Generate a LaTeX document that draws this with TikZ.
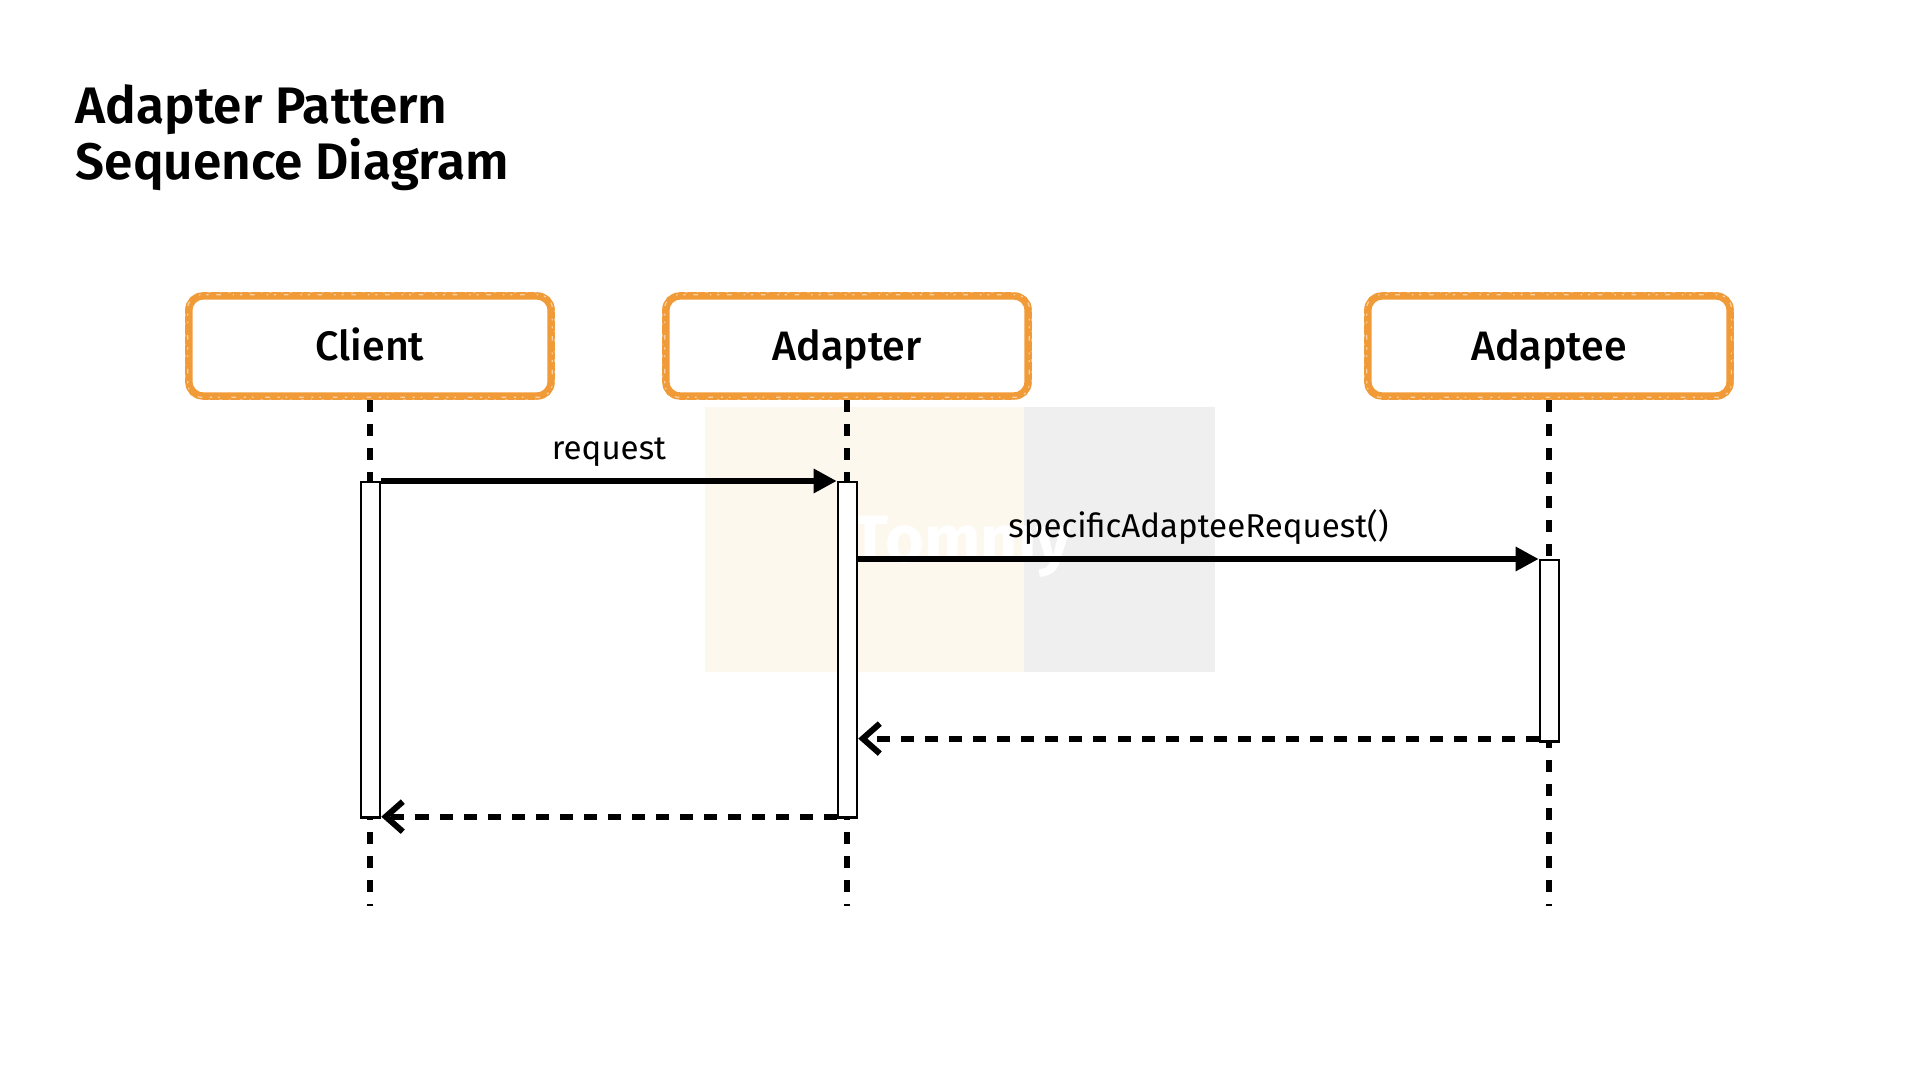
\documentclass[tikz,border=0pt]{standalone}
\usepackage{fontspec}
\setmainfont{Fira Sans}
\newfontfamily\titlefont{Fira Sans SemiBold}
\newfontfamily\labelfont{Fira Sans Medium}
\usetikzlibrary{arrows.meta}

\definecolor{crayon}{HTML}{F19A38}
\definecolor{cream}{HTML}{FCF8EE}
\definecolor{mist}{HTML}{EFEFEF}

\tikzset{
  title/.style={anchor=base west, inner sep=0pt, font=\titlefont\fontsize{14.6}{17}\selectfont},
  actor/.style={draw=crayon, line width=0.075cm, rounded corners=0.14cm,
    minimum width=3.62cm, minimum height=1cm, inner sep=0pt,
    text height=0.29cm, text depth=0pt, font=\labelfont\fontsize{11.7}{14}\selectfont},
  grain/.style={white, opacity=.55, line width=0.35pt, rounded corners=0.14cm},
  lifeline/.style={line width=0.055cm, dash pattern=on 0.12cm off 0.12cm},
  bar/.style={draw, fill=white, line width=0.025cm, minimum width=0.19cm, inner sep=0pt, anchor=north},
  call/.style={line width=0.06cm, -{Triangle[length=0.23cm, width=0.23cm]}},
  reply/.style={line width=0.06cm, dash pattern=on 0.13cm off 0.11cm,
    -{Straight Barb[length=0.17cm, width=0.3cm]}},
  msg/.style={anchor=base, inner sep=0pt, font=\fontsize{9.4}{11}\selectfont},
  watermark/.style={anchor=base, inner sep=0pt, text=white, font=\bfseries\fontsize{19}{22}\selectfont}
}

% crayon grain on a participant frame
\newcommand{\crayongrain}[1]{%
  \draw[grain, dash pattern=on 0.6pt off 2.2pt on 1.3pt off 3.4pt on 0.4pt off 1.7pt]
    ([shift={(0.025cm,0.025cm)}]#1.south west) rectangle ([shift={(-0.025cm,-0.025cm)}]#1.north east);
  \draw[grain, dash pattern=on 0.9pt off 3.1pt on 0.5pt off 2.6pt on 1.1pt off 4pt]
    ([shift={(-0.02cm,-0.02cm)}]#1.south west) rectangle ([shift={(0.02cm,0.02cm)}]#1.north east);
  \draw[grain, opacity=.35, dash pattern=on 0.4pt off 1.9pt on 0.8pt off 2.7pt]
    (#1.south west) rectangle (#1.north east);}

\begin{document}
\begin{tikzpicture}[x=0.01cm, y=-0.01cm]
  \useasboundingbox (0,0) rectangle (1920,1080);

  % Watermark
  \fill[cream] (705,407) rectangle (1024,672);
  \fill[mist] (1024,407) rectangle (1215,672);
  \node[watermark] (mark) at (962,563) {Tommy};

  % Title
  \node[title] (title) at (75,124) {Adapter Pattern};
  \node[title] (subtitle) at (75,180) {Sequence Diagram};

  % Participants
  \node[actor] (client) at (370,346) {Client};
  \node[actor] (adapter) at (847,346) {Adapter};
  \node[actor] (adaptee) at (1549,346) {Adaptee};
  \crayongrain{client}
  \crayongrain{adapter}
  \crayongrain{adaptee}

  % Lifelines
  \coordinate (clientend) at (370,906);
  \coordinate (adapterend) at (847,906);
  \coordinate (adapteeend) at (1549,906);
  \draw[lifeline] (client.south) -- (clientend);
  \draw[lifeline] (adapter.south) -- (adapterend);
  \draw[lifeline] (adaptee.south) -- (adapteeend);

  % Activation bars
  \node[bar, minimum height=3.35cm] (clientbar) at (370.5,481) {};
  \node[bar, minimum height=3.35cm] (adapterbar) at (847.5,481) {};
  \node[bar, minimum height=1.81cm] (adapteebar) at (1549.5,559) {};

  % Calls
  \draw[call] (clientbar.north east) -- (adapterbar.north west)
    node[msg, midway, yshift=0.21cm] {request};
  \draw[call] (adapterbar.east |- adapteebar.north) -- (adapteebar.north west)
    node[msg, midway, yshift=0.21cm] {specificAdapteeRequest()};

  % Replies
  \draw[reply] ([yshift=0.04cm]adapteebar.south west)
    -- ([yshift=0.04cm]adapterbar.east |- adapteebar.south);
  \draw[reply] ([yshift=0.02cm]adapterbar.south west) -- ([yshift=0.02cm]clientbar.south east);
\end{tikzpicture}
\end{document}
